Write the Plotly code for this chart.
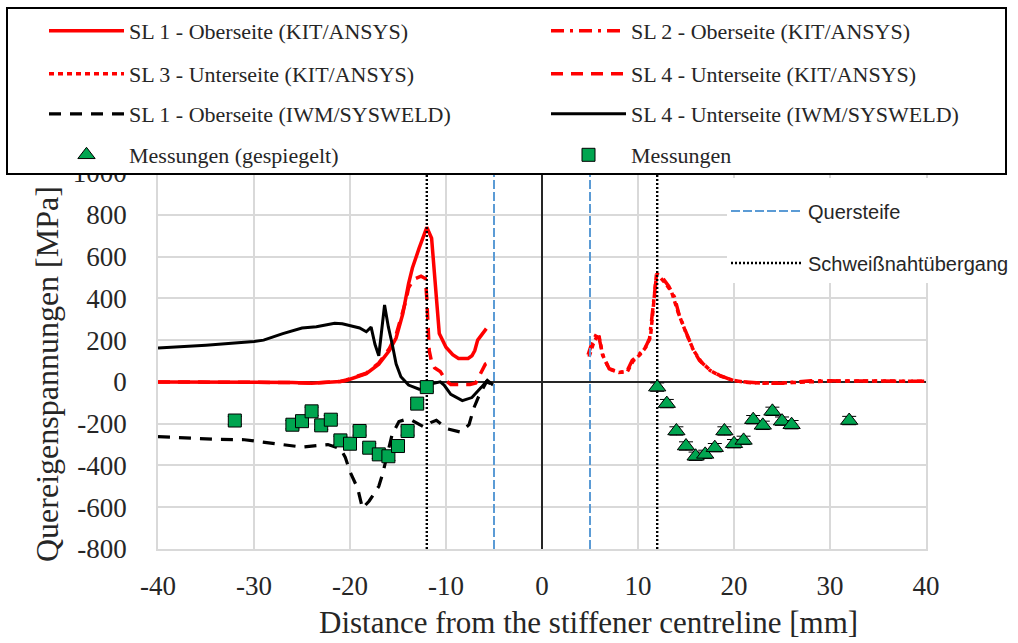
import plotly.graph_objects as go

# ---- data -------------------------------------------------------------
# KIT/ANSYS simulation paths
sl1_kit_x = [-40, -30, -26, -24, -22, -21, -20.4, -18.3, -17, -15.9, -15.2, -14.5, -13.9, -13.5,
             -12.8, -12.0, -11.5, -11.0, -10.7, -10.0, -9.3, -8.7, -7.7, -7.3, -7.0, -6.7, -6.3, -5.8]
sl1_kit_y = [0, 0, -3, -6, -3, 2, 7, 39, 85, 150, 210, 326, 470, 545,
             640, 740, 688, 400, 232, 166, 130, 112, 112, 125, 150, 200, 225, 255]

sl2_kit_x = [4.8, 5.3, 5.8, 6.1, 6.4, 7.0, 8.0, 8.8, 9.4, 10.0, 10.7, 11.2, 11.5, 11.7, 11.95,
             12.6, 13.2, 13.8, 14.3, 15.0, 15.7, 16.4, 17.5, 18.5, 19.9, 21.3, 22.7, 25.1, 26.5,
             28, 30, 35, 40]
sl2_kit_y = [130, 199, 238, 175, 119, 63, 47, 47, 103, 127, 159, 207, 342, 438, 518,
             495, 458, 406, 318, 238, 159, 103, 55, 31, 7, -1, -6, -6, 1,
             5, 5, 4, 3]

sl3_kit_x = [4.9, 5.4, 5.9, 6.3, 7.0, 8.0, 8.9, 9.5, 10.2, 10.8, 11.3, 11.6, 11.9, 12.3,
             12.9, 13.5, 14.2, 15.0, 15.8, 16.6, 17.6, 18.6, 20.0, 21.5, 23, 25, 27, 30, 35, 40]
sl3_kit_y = [120, 190, 230, 130, 62, 45, 50, 100, 130, 165, 215, 360, 505, 500,
             470, 430, 330, 235, 150, 95, 52, 28, 6, -3, -6, -5, 0, 4, 4, 3]

sl4_kit_x = [-40, -30, -26, -24, -22, -21, -20.4, -18.3, -17, -15.9, -15.2, -14.5, -14.2, -13.9,
             -13.4, -12.6, -12.15, -12.0, -11.9, -11.75, -11.5, -11.2, -10.6, -10.0, -9.5, -8.5,
             -7.5, -6.9, -6.4, -5.9, -5.2]
sl4_kit_y = [0, 0, -3, -6, -3, 2, 9, 42, 90, 160, 225, 340, 385, 450,
             490, 506, 495, 400, 260, 150, 95, 68, 50, 5, -12, -14,
             -12, -5, 45, 85, 100]

# IWM/SYSWELD simulation paths
sl1_iwm_x = [-40, -37, -34, -31, -28, -25, -22.3, -21, -20.5, -20, -19.2, -18.7, -18, -17,
             -16.6, -15.6, -14.9, -14.2, -13.5, -12.3, -11.6, -11, -9.9, -8.5, -7.6, -7.1,
             -6.6, -5.8, -5.2]
sl1_iwm_y = [-262, -268, -275, -277, -296, -312, -300, -320, -360, -430, -510, -605, -570, -500,
             -440, -250, -190, -180, -185, -216, -195, -184, -224, -240, -205, -125,
             -70, 0, -10]

sl4_iwm_x = [-40, -35, -30, -29, -27, -25, -23.5, -22.8, -21.6, -20.8, -20.1, -19, -18.3, -17.8,
             -17.4, -17.0, -16.4, -16.0, -15.6, -15.2, -14.7, -13.9, -12.8, -12.2, -11.4, -10.6,
             -10.2, -9.5, -8.3, -7.3, -6.3, -5.7, -5.1]
sl4_iwm_y = [162, 175, 193, 200, 231, 258, 264, 270, 281, 278, 270, 258, 240, 262,
             180, 125, 368, 262, 180, 87, 25, -15, -35, -35, -8, 0,
             -15, -60, -90, -75, -25, 7, -15]

# measurements and their mirrored counterparts
meas_x = [-32, -26, -25, -24, -23, -22, -21, -20, -19, -18, -17, -16, -15, -14, -13, -12]
meas_y = [-185, -205, -188, -141, -208, -181, -280, -296, -235, -315, -347, -356, -307, -235, -104, -25]
mirr_x = [12, 13, 14, 15, 16, 17, 18, 19, 20, 21, 22, 23, 24, 25, 26, 32]
mirr_y = [-25, -104, -235, -307, -356, -347, -315, -235, -296, -280, -181, -208, -141, -188, -205, -185]

# reference positions
stiffener_x = [-5, 5]
weld_toe_x = [-12, 12]

x_ticks = [-40, -30, -20, -10, 0, 10, 20, 30, 40]
y_ticks = [-800, -600, -400, -200, 0, 200, 400, 600, 800, 1000]

# ---- geometry helpers (plot area in pixels) ---------------------------
W, H = 1018, 643
L, R, T, B = 158, 926, 173, 549


def px(x):
    return (x - L) / (R - L)


def py(y):
    return (B - y) / (B - T)


RED = "#FF0000"
BLACK = "#000000"
BLUE = "#5B9BD5"
GREEN = "#00A550"
TEXT = "#262626"
SERIF = "Liberation Serif, Times New Roman, serif"
SANS = "Liberation Sans, Arial, sans-serif"


def vlines(xs, y0=-800, y1=1000):
    xx, yy = [], []
    for v in xs:
        xx += [v, v, None]
        yy += [y0, y1, None]
    return xx, yy


fig = go.Figure()

fig.add_trace(go.Scatter(x=sl1_kit_x, y=sl1_kit_y, mode="lines", name="SL 1 - Oberseite (KIT/ANSYS)",
                         line=dict(color=RED, width=3.5), legend="legend"))
fig.add_trace(go.Scatter(x=sl2_kit_x, y=sl2_kit_y, mode="lines", name="SL 2 - Oberseite (KIT/ANSYS)",
                         line=dict(color=RED, width=3.5, dash="13px,6px,3px,6px"), legend="legend3"))
fig.add_trace(go.Scatter(x=sl3_kit_x, y=sl3_kit_y, mode="lines", name="SL 3 - Unterseite (KIT/ANSYS)",
                         line=dict(color=RED, width=3.5, dash="5px,4px"), legend="legend4"))
fig.add_trace(go.Scatter(x=sl4_kit_x, y=sl4_kit_y, mode="lines", name="SL 4 - Unterseite (KIT/ANSYS)",
                         line=dict(color=RED, width=3.5, dash="12px,8px"), legend="legend5"))
fig.add_trace(go.Scatter(x=sl1_iwm_x, y=sl1_iwm_y, mode="lines", name="SL 1 - Oberseite (IWM/SYSWELD)",
                         line=dict(color=BLACK, width=3.2, dash="12px,9px"), legend="legend6"))
fig.add_trace(go.Scatter(x=sl4_iwm_x, y=sl4_iwm_y, mode="lines", name="SL 4 - Unterseite (IWM/SYSWELD)",
                         line=dict(color=BLACK, width=3.0), legend="legend7"))

vx, vy = vlines(stiffener_x)
fig.add_trace(go.Scatter(x=vx, y=vy, mode="lines", name="Quersteife",
                         line=dict(color=BLUE, width=2, dash="9px,3px"), legend="legend2"))
wx, wy = vlines(weld_toe_x)
fig.add_trace(go.Scatter(x=wx, y=wy, mode="lines", name="Schweißnahtübergang",
                         line=dict(color=BLACK, width=2.4, dash="2px,2px"), legend="legend10"))

err = dict(type="constant", value=20, color=BLACK, thickness=1, width=7)
fig.add_trace(go.Scatter(x=mirr_x, y=mirr_y, mode="markers", name="Messungen (gespiegelt)",
                         marker=dict(symbol="triangle-up", size=15, color=GREEN,
                                     line=dict(color=BLACK, width=1)),
                         error_y=err, legend="legend8"))
fig.add_trace(go.Scatter(x=meas_x, y=meas_y, mode="markers", name="Messungen",
                         marker=dict(symbol="square", size=13, color=GREEN,
                                     line=dict(color=BLACK, width=1)),
                         error_y=err, legend="legend9"))

# one single-entry legend per slot of the framed legend box
leg_font = dict(family=SERIF, size=22, color=TEXT)
col1, col2 = 44, 546
rows = [31, 74, 114, 155]
slots = {
    "legend": (col1, rows[0]), "legend3": (col2, rows[0]),
    "legend4": (col1, rows[1]), "legend5": (col2, rows[1]),
    "legend6": (col1, rows[2]), "legend7": (col2, rows[2]),
    "legend8": (col1, rows[3]), "legend9": (col2, rows[3]),
}
legends = {}
for key, (lx, ly) in slots.items():
    legends[key] = dict(x=px(lx), y=py(ly), xanchor="left", yanchor="middle",
                        bgcolor="rgba(0,0,0,0)", borderwidth=0, font=leg_font,
                        itemwidth=75, orientation="v")
inner_font = dict(family=SANS, size=20, color=TEXT)
legends["legend2"] = dict(x=px(726), y=py(211), xanchor="left", yanchor="middle",
                          bgcolor="rgba(0,0,0,0)", borderwidth=0, font=inner_font, itemwidth=72)
legends["legend10"] = dict(x=px(726), y=py(263), xanchor="left", yanchor="middle",
                           bgcolor="rgba(0,0,0,0)", borderwidth=0, font=inner_font, itemwidth=72)

tick_font = dict(family=SERIF, size=27, color=TEXT)

fig.update_layout(
    width=W, height=H,
    margin=dict(l=L, r=W - R, t=T, b=H - B, autoexpand=False),
    paper_bgcolor="white", plot_bgcolor="white",
    showlegend=True,
    **legends,
    xaxis=dict(range=[-40, 40], tickvals=x_ticks, ticktext=[str(v) for v in x_ticks],
               showgrid=True, gridcolor="#d9d9d9", gridwidth=1.5,
               zeroline=True, zerolinecolor=TEXT, zerolinewidth=1.5,
               showline=True, linecolor="#d9d9d9", linewidth=1.5, mirror=True,
               tickfont=tick_font, ticklabelstandoff=12),
    yaxis=dict(range=[-800, 1000], tickvals=y_ticks, ticktext=[str(v) for v in y_ticks],
               showgrid=True, gridcolor="#d9d9d9", gridwidth=1.5,
               zeroline=True, zerolinecolor=TEXT, zerolinewidth=1.5,
               showline=True, linecolor="#d9d9d9", linewidth=1.5, mirror=True,
               tickfont=tick_font, ticklabelstandoff=24),
    shapes=[
        # backdrop of the in-plot legend
        dict(type="rect", xref="paper", yref="paper", x0=px(727), x1=px(1018), y0=py(283), y1=py(178),
             fillcolor="white", line=dict(width=0), layer="above"),
        # framed legend box across the top
        dict(type="rect", xref="paper", yref="paper", x0=px(7), x1=px(1006), y0=py(174), y1=py(8),
             fillcolor="white", line=dict(color=BLACK, width=2), layer="above"),
    ],
    annotations=[
        dict(text="Distance from the stiffener centreline [mm]", xref="paper", yref="paper",
             x=px(588), y=py(642), xanchor="center", yanchor="bottom", showarrow=False,
             font=dict(family=SERIF, size=31, color=TEXT)),
        dict(text="Quereigenspannungen [MPa]", xref="paper", yref="paper",
             x=px(47), y=py(374), xanchor="center", yanchor="middle", showarrow=False, textangle=-90,
             font=dict(family=SERIF, size=32, color=TEXT)),
    ],
)

fig.write_html("out.html")
